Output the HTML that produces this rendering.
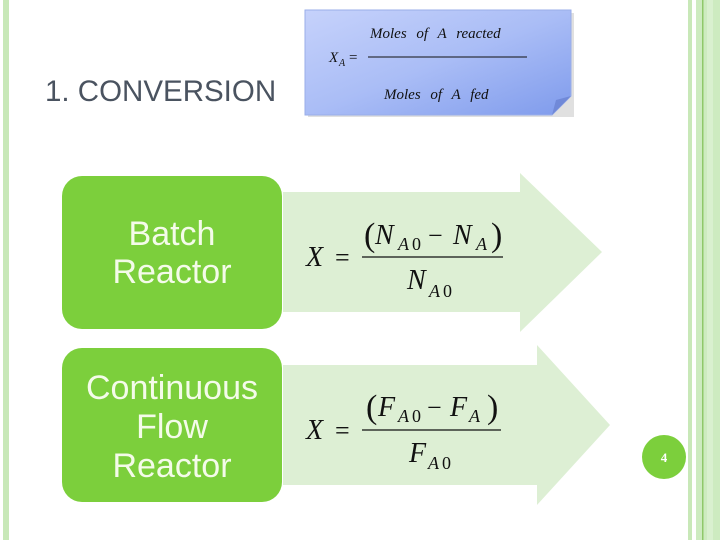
<!DOCTYPE html>
<html><head><meta charset="utf-8"><style>
html,body{margin:0;padding:0;background:#fff;}
svg{display:block;}
</style></head><body>
<svg width="720" height="540" viewBox="0 0 720 540" xmlns="http://www.w3.org/2000/svg">
<defs>
<linearGradient id="bg" x1="0" y1="0" x2="1" y2="1">
<stop offset="0" stop-color="#c6d2fb"/><stop offset="0.5" stop-color="#aabdf6"/><stop offset="1" stop-color="#7f9bec"/>
</linearGradient>
</defs>
<rect x="0" y="0" width="720" height="540" fill="#fff"/>
<!-- left stripe -->
<rect x="3" y="0" width="6" height="540" fill="#c8e8b8"/>
<!-- right stripes -->
<rect x="688" y="0" width="4" height="540" fill="#c8e8b8"/>
<rect x="696" y="0" width="24" height="540" fill="#cdebc0"/>
<rect x="702" y="0" width="1.5" height="540" fill="#8fc86a"/>
<rect x="707" y="0" width="6" height="540" fill="#d9f0cf"/>
<!-- title -->
<text x="45" y="101" font-family="Liberation Sans, sans-serif" font-size="29.5" fill="#4a5360">1. CONVERSION</text>
<!-- note -->
<rect x="308" y="13" width="266" height="104" fill="#000" opacity="0.12"/>
<path d="M305 10 H571 V96 L552 115 H305 Z" fill="url(#bg)" stroke="#9aaee8" stroke-width="1"/>
<path d="M571 96 L552 115 L556 100 Z" fill="#7089d8"/>
<g font-family="Liberation Serif, serif" font-style="italic" fill="#111">
<text x="370" y="38" font-size="15" word-spacing="6">Moles of  A  reacted</text>
<text x="329" y="62" font-size="15">X</text><text x="339" y="66" font-size="10">A</text>
<text x="349" y="62" font-size="15" font-style="normal">=</text>
<line x1="368" y1="57" x2="527" y2="57" stroke="#111" stroke-width="1"/>
<text x="384" y="99" font-size="15" word-spacing="6">Moles of  A  fed</text>
</g>
<!-- arrows -->
<path d="M283 192 H520 V173 L602 252 L520 332 V312 H283 Z" fill="#ddefd4"/>
<path d="M283 365 H537 V345 L610 425 L537 505 V485 H283 Z" fill="#ddefd4"/>
<!-- boxes -->
<rect x="62" y="176" width="220" height="153" rx="20" fill="#7ccf3c"/>
<rect x="62" y="348" width="220" height="154" rx="20" fill="#7ccf3c"/>
<g font-family="Liberation Sans, sans-serif" font-size="34" fill="#f4fbe9" text-anchor="middle">
<text x="172" y="245">Batch</text>
<text x="172" y="283">Reactor</text>
<text x="172" y="399">Continuous</text>
<text x="172" y="438">Flow</text>
<text x="172" y="477">Reactor</text>
</g>
<!-- formulas -->
<g font-family="Liberation Serif, serif" font-style="italic" fill="#111">
<text x="306" y="266" font-size="28">X</text>
<text x="335" y="266" font-size="26" font-style="normal">=</text>
<line x1="362" y1="257" x2="503" y2="257" stroke="#111" stroke-width="1.3"/>
<text x="364" y="246" font-size="34" font-style="normal">(</text>
<text x="375" y="244" font-size="28">N</text>
<text x="398" y="250" font-size="18">A</text><text x="412" y="250" font-size="18" font-style="normal">0</text>
<text x="428" y="244" font-size="26" font-style="normal">−</text>
<text x="453" y="244" font-size="28">N</text>
<text x="476" y="250" font-size="18">A</text>
<text x="491" y="246" font-size="34" font-style="normal">)</text>
<text x="407" y="289" font-size="28">N</text>
<text x="429" y="297" font-size="18">A</text><text x="443" y="297" font-size="18" font-style="normal">0</text>

<text x="306" y="439" font-size="28">X</text>
<text x="335" y="439" font-size="26" font-style="normal">=</text>
<line x1="362" y1="430" x2="501" y2="430" stroke="#111" stroke-width="1.3"/>
<text x="366" y="418" font-size="34" font-style="normal">(</text>
<text x="378" y="416" font-size="28">F</text>
<text x="398" y="422" font-size="18">A</text><text x="412" y="422" font-size="18" font-style="normal">0</text>
<text x="427" y="416" font-size="26" font-style="normal">−</text>
<text x="450" y="416" font-size="28">F</text>
<text x="469" y="422" font-size="18">A</text>
<text x="487" y="418" font-size="34" font-style="normal">)</text>
<text x="409" y="462" font-size="28">F</text>
<text x="428" y="469" font-size="18">A</text><text x="442" y="469" font-size="18" font-style="normal">0</text>
</g>
<!-- page number -->
<circle cx="664" cy="457" r="22" fill="#7ccf3c"/>
<text x="664" y="462" font-family="Liberation Serif, serif" font-size="13" font-weight="bold" fill="#fff" text-anchor="middle">4</text>
</svg>
</body></html>
